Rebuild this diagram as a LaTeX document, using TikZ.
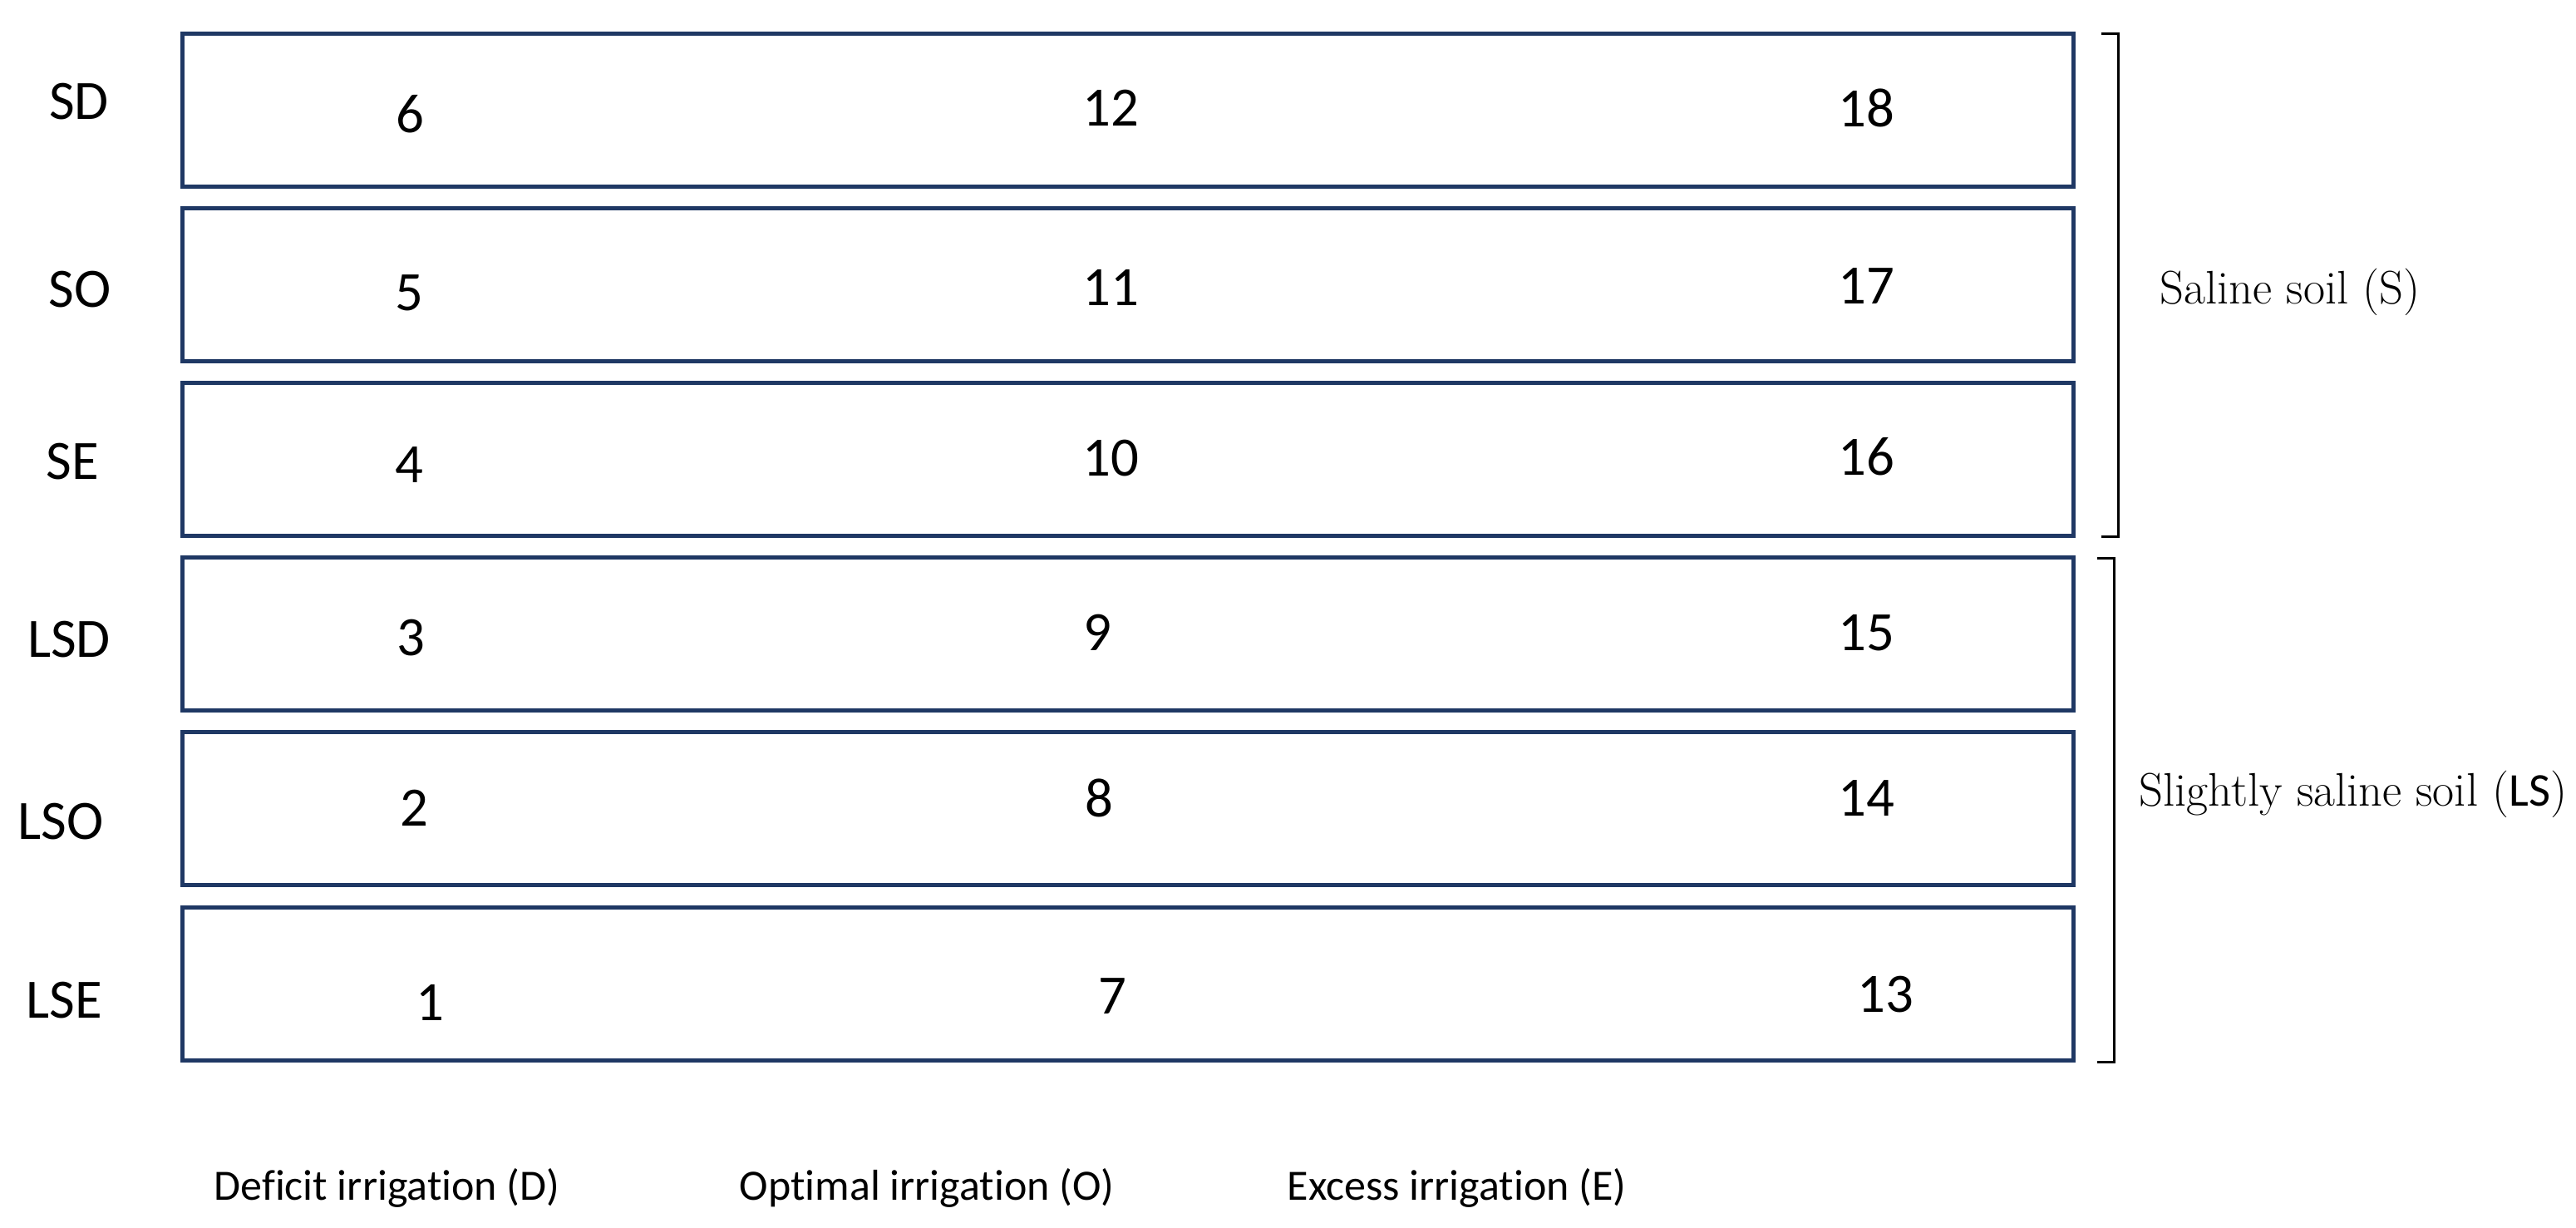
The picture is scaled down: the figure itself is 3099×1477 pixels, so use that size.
\documentclass[tikz,border=0pt]{standalone}
\usepackage{fontspec}
\newfontfamily\calib[Ligatures={NoCommon,NoContextual}]{Carlito}
\definecolor{navy}{HTML}{1F3864}
\begin{document}
\begin{tikzpicture}[x=0.1mm,y=-0.1mm,
  rowbox/.style={draw=navy, line width=0.5mm, minimum width=227.5mm, minimum height=18.4mm, inner sep=0},
  num/.style={font=\calib\fontsize{19}{22}\selectfont, inner sep=0},
  rowlab/.style={font=\calib\fontsize{19}{22}\selectfont, inner sep=0},
  axlab/.style={font=\calib\fontsize{14.8}{18}\selectfont, inner sep=0, anchor=base west},
  grplab/.style={font=\fontsize{16.1}{19}\selectfont, inner sep=0, anchor=base west},
  brk/.style={line width=0.3mm, draw=black}]
\useasboundingbox (0,0) rectangle (3099,1477);
% boxes
\node[rowbox] (b1) at (1357.25,132.5) {};
\node[rowbox] (b2) at (1357.25,342.6) {};
\node[rowbox] (b3) at (1357.25,552.7) {};
\node[rowbox] (b4) at (1357.25,762.8) {};
\node[rowbox] (b5) at (1357.25,972.9) {};
\node[rowbox] (b6) at (1357.25,1183.0) {};
% row labels
\node[rowlab] (lSD) at (95,122.5) {SD};
\node[rowlab] (lSO) at (96,348) {SO};
\node[rowlab] (lSE) at (87,555) {SE};
\node[rowlab] (lLSD) at (83,769) {LSD};
\node[rowlab] (lLSO) at (73,988) {LSO};
\node[rowlab] (lLSE) at (77,1203.5) {LSE};
% numbers
\node[num] (n6) at (493,137) {6};
\node[num] (n12) at (1336,130) {12};
\node[num] (n18) at (2245,130) {18};
\node[num] (n5) at (492,352) {5};
\node[num] (n11) at (1336,346) {11};
\node[num] (n17) at (2245,344) {17};
\node[num] (n4) at (492,559) {4};
\node[num] (n10) at (1336,551) {10};
\node[num] (n16) at (2245,549) {16};
\node[num] (n3) at (494,767) {3};
\node[num] (n9) at (1320,761) {9};
\node[num] (n15) at (2245,761) {15};
\node[num] (n2) at (498,972) {2};
\node[num] (n8) at (1322,960) {8};
\node[num] (n14) at (2245,960) {14};
\node[num] (n1) at (517,1206) {1};
\node[num] (n7) at (1338,1198) {7};
\node[num] (n13) at (2268,1196) {13};
% brackets
\coordinate (s1) at (2528,41);
\coordinate (s2) at (2548,41);
\coordinate (s3) at (2548,646);
\coordinate (s4) at (2528,646);
\draw[brk] (s1) -- (s2) -- (s3) -- (s4);
\coordinate (t1) at (2523,672);
\coordinate (t2) at (2543,672);
\coordinate (t3) at (2543,1277);
\coordinate (t4) at (2523,1277);
\draw[brk] (t1) -- (t2) -- (t3) -- (t4);
% group labels
\node[grplab] (gS) at (2598,366) {Saline soil (S)};
\node[grplab] (gLS) at (2573,969) {Slightly saline soil ({\calib LS})};
% axis labels
\node[axlab] (aD) at (257,1443) {Deficit irrigation (D)};
\node[axlab] (aO) at (889,1443) {Optimal irrigation (O)};
\node[axlab] (aE) at (1548,1443) {Excess irrigation (E)};
\end{tikzpicture}
\end{document}
